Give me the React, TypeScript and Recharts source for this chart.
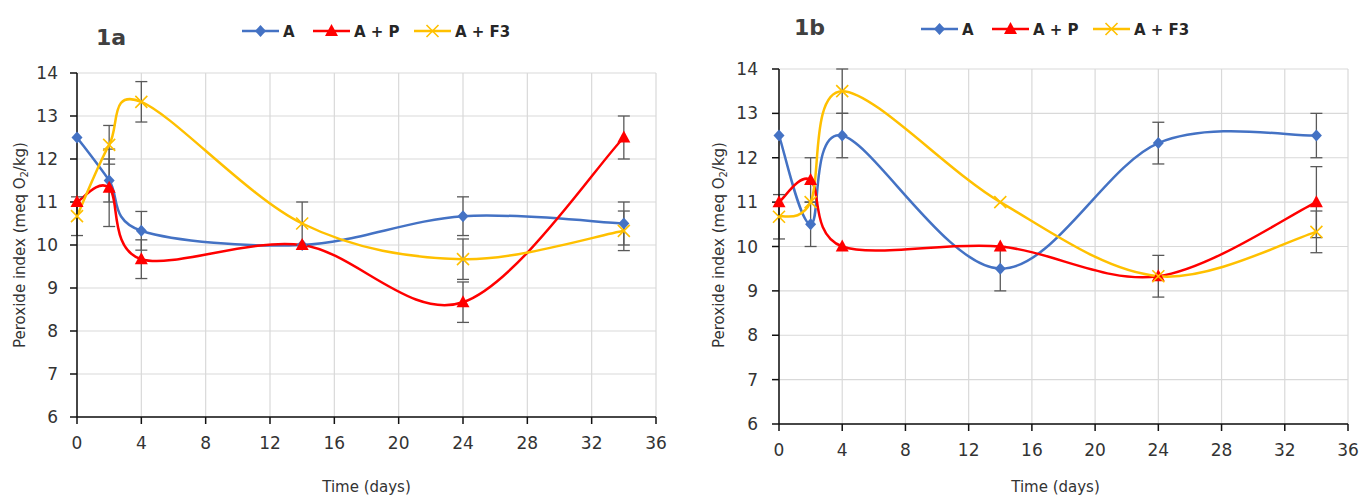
import React from 'react';
import { LineChart, Line, XAxis, YAxis, CartesianGrid, ErrorBar, Label } from 'recharts';

// sampling days (shared by both panels)
const days = [0, 2, 4, 14, 24, 34];
const xTicks = [0, 4, 8, 12, 16, 20, 24, 28, 32, 36];
const yTicks = [6, 7, 8, 9, 10, 11, 12, 13, 14];

// panel 1a
const a1_A = [12.5, 11.5, 10.33, 10.0, 10.67, 10.5];
const a1_P = [11.0, 11.33, 9.67, 10.0, 8.67, 12.5];
const a1_F3 = [10.67, 12.33, 13.33, 10.5, 9.67, 10.33];
const a1_errA = [0, 0.5, 0.45, 0, 0.45, 0.5];
const a1_errP = [0, 0.9, 0.45, 0, 0.47, 0.5];
const a1_errF3 = [0.45, 0.45, 0.47, 0.5, 0.47, 0.46];

// panel 1b
const b1_A = [12.5, 10.5, 12.5, 9.5, 12.33, 12.5];
const b1_P = [11.0, 11.5, 10.0, 10.0, 9.33, 11.0];
const b1_F3 = [10.67, 11.0, 13.5, 11.0, 9.33, 10.33];
const b1_errA = [0, 0.5, 0.5, 0.5, 0.47, 0.5];
const b1_errP = [0, 0.5, 0, 0, 0, 0.8];
const b1_errF3 = [0.5, 0, 0.5, 0, 0.47, 0.47];

const COLORS = {
  A: '#4472C4',
  P: '#FF0000',
  F3: '#FFC000',
};

const SERIES = [
  { key: 'A', name: 'A', color: COLORS.A, shape: 'diamond' },
  { key: 'P', name: 'A + P', color: COLORS.P, shape: 'triangle' },
  { key: 'F3', name: 'A + F3', color: COLORS.F3, shape: 'cross' },
];

const FONT = '"DejaVu Sans", sans-serif';
const TEXT = '#333333';

function buildRows(a: number[], p: number[], f3: number[], ea: number[], ep: number[], ef3: number[]) {
  return days.map((d, i) => ({ day: d, A: a[i], P: p[i], F3: f3[i], eA: ea[i], eP: ep[i], eF3: ef3[i] }));
}

const data1a = buildRows(a1_A, a1_P, a1_F3, a1_errA, a1_errP, a1_errF3);
const data1b = buildRows(b1_A, b1_P, b1_F3, b1_errA, b1_errP, b1_errF3);

// Excel-like smoothed line (cubic bezier, catmull-rom tangents)
function excelCurve(context: any) {
  let pts: number[][] = [];
  return {
    areaStart() {},
    areaEnd() {},
    lineStart() {
      pts = [];
    },
    point(x: number, y: number) {
      pts.push([+x, +y]);
    },
    lineEnd() {
      if (!pts.length) return;
      context.moveTo(pts[0][0], pts[0][1]);
      for (let i = 0; i < pts.length - 1; i++) {
        const p0 = pts[Math.max(i - 1, 0)];
        const p1 = pts[i];
        const p2 = pts[i + 1];
        const p3 = pts[Math.min(i + 2, pts.length - 1)];
        context.bezierCurveTo(
          p1[0] + (p2[0] - p0[0]) / 6,
          p1[1] + (p2[1] - p0[1]) / 6,
          p2[0] - (p3[0] - p1[0]) / 6,
          p2[1] - (p3[1] - p1[1]) / 6,
          p2[0],
          p2[1]
        );
      }
    },
  };
}

function Marker({ shape, cx, cy, color }: any) {
  if (cx == null || cy == null) return null;
  if (shape === 'diamond') {
    return <path d={`M${cx},${cy - 6} L${cx + 5.5},${cy} L${cx},${cy + 6} L${cx - 5.5},${cy} Z`} fill={color} />;
  }
  if (shape === 'triangle') {
    return <path d={`M${cx},${cy - 7} L${cx + 6.5},${cy + 5} L${cx - 6.5},${cy + 5} Z`} fill={color} />;
  }
  return (
    <path
      d={`M${cx - 6},${cy - 6} L${cx + 6},${cy + 6} M${cx - 6},${cy + 6} L${cx + 6},${cy - 6}`}
      stroke={color}
      strokeWidth={1.6}
      fill="none"
    />
  );
}

const YTitle = ({ cx, cy }: { cx: number; cy: number }) => (
  <text
    x={cx}
    y={cy}
    transform={`rotate(-90 ${cx} ${cy})`}
    textAnchor="middle"
    dominantBaseline="central"
    fontFamily={FONT}
    fontSize={15}
    fill={TEXT}
  >
    Peroxide index (meq O
    <tspan dy={4} fontSize={10}>2</tspan>
    <tspan dy={-4}>/kg)</tspan>
  </text>
);

interface PanelProps {
  data: any[];
  left: number;
  width: number;
  plotTop: number;
  plotRight: number;
  yAxisWidth: number;
  xAxisHeight: number;
  tickGap: number;
  titleX: number;
  timeDx: number;
}

function Panel({ data, left, width, plotTop, plotRight, yAxisWidth, xAxisHeight, tickGap, titleX, timeDx }: PanelProps) {
  const tickStyle = { fontFamily: FONT, fontSize: 17, fill: TEXT };
  return (
    <div style={{ position: 'absolute', left, top: 0 }}>
      <LineChart width={width} height={497} data={data} margin={{ top: plotTop, right: plotRight, left: 0, bottom: 0 }}>
        <CartesianGrid stroke="#d9d9d9" strokeWidth={1.2} />
        <XAxis
          dataKey="day"
          type="number"
          domain={[0, 36]}
          ticks={xTicks}
          interval={0}
          height={xAxisHeight}
          tickSize={7}
          tickMargin={13}
          tick={tickStyle}
          axisLine={{ stroke: '#111', strokeWidth: 1.5 }}
          tickLine={{ stroke: '#111', strokeWidth: 1.5 }}
        >
          <Label
            value="Time (days)"
            position="insideBottom"
            offset={5}
            dx={timeDx}
            style={{ fontFamily: FONT, fontSize: 15, fill: TEXT }}
          />
        </XAxis>
        <YAxis
          type="number"
          domain={[6, 14]}
          ticks={yTicks}
          interval={0}
          allowDataOverflow
          width={yAxisWidth}
          tickSize={7}
          tickMargin={tickGap}
          tick={tickStyle}
          axisLine={{ stroke: '#111', strokeWidth: 1.5 }}
          tickLine={{ stroke: '#111', strokeWidth: 1.5 }}
        >
          <Label content={() => <YTitle cx={titleX} cy={245} />} />
        </YAxis>
        {SERIES.map((s) => (
          <Line
            key={s.key}
            dataKey={s.key}
            name={s.name}
            type={excelCurve as any}
            stroke={s.color}
            strokeWidth={2.5}
            isAnimationActive={false}
            dot={(p: any) => <Marker key={`${s.key}-${p.index}`} shape={s.shape} cx={p.cx} cy={p.cy} color={s.color} />}
            activeDot={false}
          >
            <ErrorBar dataKey={`e${s.key}`} direction="y" width={6} stroke="#595959" strokeWidth={1.3} />
          </Line>
        ))}
      </LineChart>
    </div>
  );
}

function LegendRow({ x, y }: { x: number; y: number }) {
  const starts = [0, 71, 172];
  return (
    <g>
      {SERIES.map((s, i) => {
        const x0 = x + starts[i];
        return (
          <g key={s.key}>
            <line x1={x0} y1={y} x2={x0 + 37} y2={y} stroke={s.color} strokeWidth={2.5} />
            <Marker shape={s.shape} cx={x0 + 18.5} cy={y} color={s.color} />
            <text x={x0 + 41} y={y + 5.5} fontFamily={FONT} fontWeight="bold" fontSize={15} fill="#262626">
              {s.name}
            </text>
          </g>
        );
      })}
    </g>
  );
}

export default function App() {
  return (
    <div style={{ position: 'absolute', left: 0, top: 0, width: 1360, height: 497, background: '#fff', overflow: 'hidden' }}>
      <Panel
        data={data1a}
        left={0}
        width={680}
        plotTop={73}
        plotRight={24}
        yAxisWidth={77}
        xAxisHeight={80}
        tickGap={12}
        titleX={20}
        timeDx={0}
      />
      <Panel
        data={data1b}
        left={700}
        width={660}
        plotTop={69}
        plotRight={12}
        yAxisWidth={79}
        xAxisHeight={73}
        tickGap={14}
        titleX={19}
        timeDx={-8}
      />
      <svg width={1360} height={497} style={{ position: 'absolute', left: 0, top: 0, pointerEvents: 'none' }}>
        <text x={96} y={45} fontFamily={FONT} fontWeight="bold" fontSize={22} fill="#404040">
          1a
        </text>
        <text x={794} y={35} fontFamily={FONT} fontWeight="bold" fontSize={22} fill="#404040">
          1b
        </text>
        <LegendRow x={242} y={31} />
        <LegendRow x={921} y={29} />
      </svg>
    </div>
  );
}
